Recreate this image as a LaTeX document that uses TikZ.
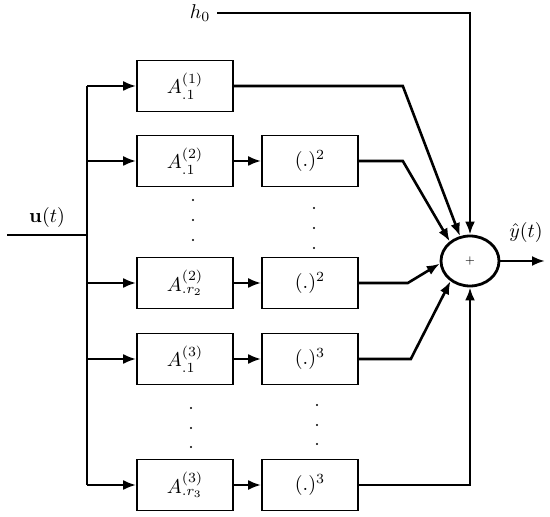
\documentclass[tikz,border=0pt]{standalone}
\usepackage{amsmath, amssymb}
\usepackage{tikz}
\usetikzlibrary{arrows.meta, shapes.geometric}

\begin{document}
\begin{tikzpicture}[x=0.5pt, y=-0.5pt,
    blk/.style={draw, line width=0.8pt, minimum width=48pt, minimum height=25.5pt, inner sep=0pt},
    conn/.style={line width=1.3pt},
    arr/.style={conn, -{Latex[length=6.5pt, width=5pt]}},
    dotmark/.style={fill, radius=0.55pt}]
  \useasboundingbox (0,0) rectangle (550,517);
  % blocks of the two columns
  \node[blk] (a1) at (185,86) {$A^{(1)}_{.1}$};
  \node[blk] (a2) at (185,161) {$A^{(2)}_{.1}$};
  \node[blk] (a3) at (185,283) {$A^{(2)}_{.r_2}$};
  \node[blk] (a4) at (185,359) {$A^{(3)}_{.1}$};
  \node[blk] (a5) at (185,485) {$A^{(3)}_{.r_3}$};
  \node[blk] (p2) at (310,161) {$(.)^2$};
  \node[blk] (p3) at (310,283) {$(.)^2$};
  \node[blk] (p4) at (310,359) {$(.)^3$};
  \node[blk] (p5) at (310,485) {$(.)^3$};
  % summation
  \node[ellipse, draw, line width=1.4pt, minimum width=29pt, minimum height=25pt, inner sep=0pt]
    (sum) at (470,261) {\tiny$+$};
  \node (h0) at (200,13) {$h_0$};
  % input and bus
  \coordinate (in) at (7,235);
  \coordinate (bus) at (87,235);
  \draw[conn] (in) -- node[above] {$\mathbf{u}(t)$} (bus);
  \draw[conn] (a1.west -| bus) -- (a5.west -| bus);
  \foreach \n in {a1,a2,a3,a4,a5}
    \draw[arr] (\n.west -| bus) -- (\n.west);
  \foreach \n/\m in {a2/p2,a3/p3,a4/p4,a5/p5}
    \draw[arr] (\n.east) -- (\m.west);
  % into the sum
  \draw[arr] (h0.east) -- (h0.east -| sum.north) -- (sum.north);
  \draw[arr] (a1.east) -- +(169,0) -- (sum.112);
  \draw[arr] (p2.east) -- +(44,0) -- (sum.136);
  \draw[arr] (p3.east) -- +(49,0) -- (sum.185);
  \draw[arr] (p4.east) -- +(52,0) -- (sum.226);
  \draw[arr] (p5.east) -- (p5.east -| sum.south) -- (sum.south);
  \coordinate (out) at (545,261);
  \draw[arr] (sum.east) -- (out);
  \node[inner sep=1pt] (yhat) at (526,233) {$\hat{y}(t)$};
  % dots
  \foreach \y in {200,220,240} \fill[dotmark] (193,\y) circle;
  \foreach \y in {208,228,248} \fill[dotmark] (314,\y) circle;
  \foreach \y in {408,428,447} \fill[dotmark] (191,\y) circle;
  \foreach \y in {405,425,444} \fill[dotmark] (317,\y) circle;
\end{tikzpicture}
\end{document}
